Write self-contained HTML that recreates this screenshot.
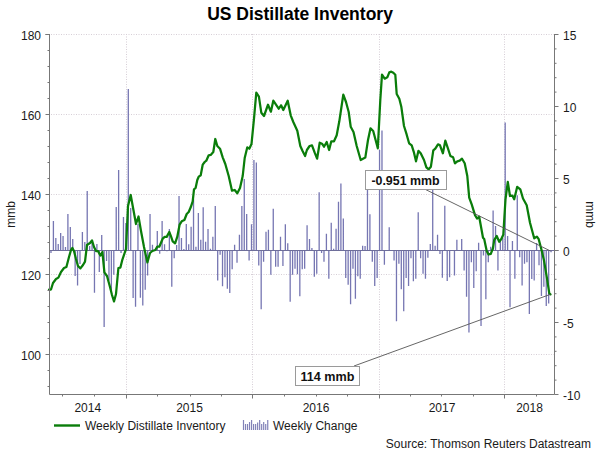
<!DOCTYPE html>
<html><head><meta charset="utf-8"><style>
html,body{margin:0;padding:0;background:#fff;}
svg{display:block;}
text{font-family:"Liberation Sans",sans-serif;font-size:12px;fill:#1a1a1a;}
</style></head><body>
<svg width="600" height="450" viewBox="0 0 600 450">
<rect width="600" height="450" fill="#fff"/>
<text x="300" y="20" text-anchor="middle" style="font-size:17.5px;font-weight:bold;fill:#000">US Distillate Inventory</text>
<path d="M51 34.5H554.5M51 114.5H554.5M51 194.5H554.5M51 274.5H554.5M51 354.5H554.5M126.5 34V394.5M252.5 34V394.5M379.5 34V394.5M504.5 34V394.5" stroke="#d6ced6" stroke-width="1" stroke-dasharray="1,1.5" fill="none"/>
<path d="M50.33 250.5h1.3V253.0h-1.3zM52.75 221.0h1.3V250.5h-1.3zM55.17 238.0h1.3V250.5h-1.3zM57.58 244.0h1.3V250.5h-1.3zM60.00 233.0h1.3V250.5h-1.3zM62.41 236.0h1.3V250.5h-1.3zM64.83 247.0h1.3V250.5h-1.3zM67.25 214.0h1.3V250.5h-1.3zM69.66 227.0h1.3V250.5h-1.3zM72.08 239.0h1.3V250.5h-1.3zM74.49 250.5h1.3V276.0h-1.3zM76.91 250.5h1.3V285.5h-1.3zM79.33 250.5h1.3V264.0h-1.3zM81.74 232.0h1.3V250.5h-1.3zM84.16 242.0h1.3V250.5h-1.3zM86.57 191.0h1.3V250.5h-1.3zM88.99 246.0h1.3V250.5h-1.3zM91.41 240.0h1.3V250.5h-1.3zM93.82 250.5h1.3V292.7h-1.3zM96.24 244.0h1.3V250.5h-1.3zM98.65 250.5h1.3V272.0h-1.3zM101.07 235.0h1.3V250.5h-1.3zM103.49 250.5h1.3V327.0h-1.3zM105.90 250.5h1.3V261.0h-1.3zM108.32 250.5h1.3V280.5h-1.3zM110.73 250.5h1.3V291.0h-1.3zM113.15 250.5h1.3V274.7h-1.3zM115.57 207.0h1.3V250.5h-1.3zM117.98 170.0h1.3V250.5h-1.3zM120.40 250.5h1.3V253.0h-1.3zM122.81 217.0h1.3V250.5h-1.3zM125.23 223.0h1.3V250.5h-1.3zM127.65 89.0h1.3V250.5h-1.3zM130.06 208.0h1.3V250.5h-1.3zM132.48 250.5h1.3V298.0h-1.3zM134.89 250.5h1.3V306.7h-1.3zM137.31 224.0h1.3V250.5h-1.3zM139.73 250.5h1.3V297.7h-1.3zM142.14 250.5h1.3V305.5h-1.3zM144.56 250.5h1.3V289.7h-1.3zM146.97 250.5h1.3V275.5h-1.3zM149.39 214.0h1.3V250.5h-1.3zM151.81 244.7h1.3V250.5h-1.3zM156.64 231.0h1.3V250.5h-1.3zM159.05 250.5h1.3V253.8h-1.3zM161.47 221.0h1.3V250.5h-1.3zM163.89 244.3h1.3V250.5h-1.3zM166.30 250.5h1.3V251.3h-1.3zM168.72 229.0h1.3V250.5h-1.3zM171.13 250.5h1.3V286.7h-1.3zM173.55 250.5h1.3V258.3h-1.3zM175.97 245.0h1.3V250.5h-1.3zM178.38 196.0h1.3V250.5h-1.3zM180.80 238.0h1.3V250.5h-1.3zM183.21 249.0h1.3V250.5h-1.3zM185.63 224.0h1.3V250.5h-1.3zM188.05 244.3h1.3V250.5h-1.3zM190.46 226.8h1.3V250.5h-1.3zM192.88 199.3h1.3V250.5h-1.3zM195.29 246.8h1.3V250.5h-1.3zM197.71 213.0h1.3V250.5h-1.3zM200.13 239.8h1.3V250.5h-1.3zM202.54 207.2h1.3V250.5h-1.3zM204.96 241.8h1.3V250.5h-1.3zM207.37 229.0h1.3V250.5h-1.3zM209.79 248.8h1.3V250.5h-1.3zM212.21 236.8h1.3V250.5h-1.3zM214.62 206.0h1.3V250.5h-1.3zM217.04 250.5h1.3V280.5h-1.3zM219.45 250.5h1.3V254.7h-1.3zM221.87 250.5h1.3V286.3h-1.3zM224.29 250.5h1.3V277.2h-1.3zM226.70 250.5h1.3V288.8h-1.3zM229.12 250.5h1.3V293.0h-1.3zM231.53 250.5h1.3V269.3h-1.3zM233.95 244.7h1.3V250.5h-1.3zM236.37 250.5h1.3V262.7h-1.3zM238.78 234.7h1.3V250.5h-1.3zM241.20 206.0h1.3V250.5h-1.3zM243.61 179.0h1.3V250.5h-1.3zM246.03 214.0h1.3V250.5h-1.3zM248.45 250.5h1.3V260.5h-1.3zM250.86 224.3h1.3V250.5h-1.3zM253.28 160.0h1.3V250.5h-1.3zM255.69 162.5h1.3V250.5h-1.3zM258.11 250.5h1.3V265.5h-1.3zM260.53 250.5h1.3V309.3h-1.3zM262.94 250.5h1.3V261.7h-1.3zM265.36 231.8h1.3V250.5h-1.3zM267.77 229.8h1.3V250.5h-1.3zM270.19 250.5h1.3V274.7h-1.3zM272.61 208.8h1.3V250.5h-1.3zM275.02 250.5h1.3V266.7h-1.3zM277.44 250.5h1.3V266.7h-1.3zM279.85 236.8h1.3V250.5h-1.3zM282.27 250.5h1.3V266.0h-1.3zM284.69 224.3h1.3V250.5h-1.3zM287.10 243.2h1.3V250.5h-1.3zM289.52 250.5h1.3V301.7h-1.3zM291.93 250.5h1.3V274.7h-1.3zM294.35 250.5h1.3V268.8h-1.3zM296.77 250.5h1.3V274.3h-1.3zM299.18 250.5h1.3V296.3h-1.3zM301.60 250.5h1.3V269.3h-1.3zM304.01 250.5h1.3V268.8h-1.3zM306.43 225.2h1.3V250.5h-1.3zM308.85 239.0h1.3V250.5h-1.3zM311.26 248.0h1.3V250.5h-1.3zM313.68 250.5h1.3V276.7h-1.3zM316.09 250.5h1.3V273.8h-1.3zM318.51 192.2h1.3V250.5h-1.3zM320.93 250.5h1.3V253.0h-1.3zM323.34 250.5h1.3V261.7h-1.3zM325.76 233.8h1.3V250.5h-1.3zM328.17 250.5h1.3V278.8h-1.3zM330.59 222.7h1.3V250.5h-1.3zM333.01 248.8h1.3V250.5h-1.3zM335.42 228.8h1.3V250.5h-1.3zM337.84 201.8h1.3V250.5h-1.3zM340.25 183.5h1.3V250.5h-1.3zM342.67 218.5h1.3V250.5h-1.3zM345.09 250.5h1.3V278.0h-1.3zM347.50 250.5h1.3V284.7h-1.3zM349.92 250.5h1.3V304.3h-1.3zM352.33 250.5h1.3V268.8h-1.3zM354.75 250.5h1.3V298.8h-1.3zM357.17 250.5h1.3V276.3h-1.3zM359.58 250.5h1.3V278.8h-1.3zM362.00 245.7h1.3V250.5h-1.3zM364.41 246.0h1.3V250.5h-1.3zM366.83 178.0h1.3V250.5h-1.3zM369.25 214.3h1.3V250.5h-1.3zM371.66 250.5h1.3V261.7h-1.3zM374.08 250.5h1.3V286.0h-1.3zM376.49 250.5h1.3V278.0h-1.3zM378.91 150.0h1.3V250.5h-1.3zM381.33 130.6h1.3V250.5h-1.3zM383.74 250.5h1.3V264.7h-1.3zM388.57 227.3h1.3V250.5h-1.3zM393.41 250.5h1.3V260.5h-1.3zM395.82 250.5h1.3V321.3h-1.3zM398.24 250.5h1.3V263.8h-1.3zM400.65 250.5h1.3V289.3h-1.3zM403.07 250.5h1.3V311.3h-1.3zM405.49 250.5h1.3V278.0h-1.3zM407.90 250.5h1.3V286.0h-1.3zM410.32 250.5h1.3V258.3h-1.3zM412.73 250.5h1.3V281.3h-1.3zM415.15 250.5h1.3V278.8h-1.3zM417.57 212.3h1.3V250.5h-1.3zM419.98 250.5h1.3V258.3h-1.3zM422.40 250.5h1.3V273.8h-1.3zM424.81 250.5h1.3V278.8h-1.3zM427.23 250.5h1.3V257.7h-1.3zM429.65 244.0h1.3V250.5h-1.3zM432.06 178.0h1.3V250.5h-1.3zM434.48 245.7h1.3V250.5h-1.3zM436.89 234.8h1.3V250.5h-1.3zM439.31 250.5h1.3V254.0h-1.3zM441.73 250.5h1.3V277.7h-1.3zM444.14 205.7h1.3V250.5h-1.3zM446.56 250.5h1.3V281.0h-1.3zM448.97 250.5h1.3V277.2h-1.3zM453.81 250.5h1.3V275.5h-1.3zM456.22 239.8h1.3V250.5h-1.3zM461.05 239.0h1.3V250.5h-1.3zM463.47 250.5h1.3V270.5h-1.3zM465.89 250.5h1.3V296.7h-1.3zM468.30 250.5h1.3V332.4h-1.3zM470.72 250.5h1.3V262.2h-1.3zM473.13 250.5h1.3V288.0h-1.3zM475.55 250.5h1.3V271.3h-1.3zM477.97 242.7h1.3V250.5h-1.3zM480.38 250.5h1.3V326.0h-1.3zM482.80 250.5h1.3V255.5h-1.3zM485.21 250.5h1.3V299.3h-1.3zM487.63 250.5h1.3V262.2h-1.3zM490.05 246.8h1.3V250.5h-1.3zM492.46 210.5h1.3V250.5h-1.3zM494.88 226.0h1.3V250.5h-1.3zM497.29 250.5h1.3V270.5h-1.3zM499.71 240.0h1.3V250.5h-1.3zM502.13 237.7h1.3V250.5h-1.3zM504.54 122.5h1.3V250.5h-1.3zM506.96 236.0h1.3V250.5h-1.3zM509.37 250.5h1.3V307.2h-1.3zM511.79 241.0h1.3V250.5h-1.3zM514.21 250.5h1.3V278.8h-1.3zM516.62 195.2h1.3V250.5h-1.3zM519.04 250.5h1.3V257.3h-1.3zM521.45 250.5h1.3V285.5h-1.3zM523.87 250.5h1.3V263.8h-1.3zM526.29 250.5h1.3V262.2h-1.3zM528.70 250.5h1.3V314.0h-1.3zM531.12 250.5h1.3V279.0h-1.3zM533.53 250.5h1.3V280.5h-1.3zM535.95 243.0h1.3V250.5h-1.3zM538.37 250.5h1.3V265.3h-1.3zM540.78 250.5h1.3V296.0h-1.3zM543.20 250.5h1.3V286.8h-1.3zM545.61 250.5h1.3V306.0h-1.3zM548.03 250.5h1.3V303.5h-1.3zM550.45 250.5h1.3V252.3h-1.3z" fill="#7676b2"/>
<path d="M49.5 250.5H558.5" stroke="#6e6e9a" stroke-width="1"/>
<path d="M49.0 289.5 L51.0 289.5 L53.0 283.0 L56.0 279.0 L58.4 277.6 L61.0 272.0 L64.0 268.0 L66.4 267.0 L69.0 257.0 L71.0 250.0 L72.4 248.0 L74.0 251.0 L76.0 259.0 L78.0 266.0 L80.4 268.4 L83.0 265.0 L85.0 261.6 L87.0 245.0 L90.0 243.0 L92.0 240.4 L94.0 247.0 L96.0 251.0 L98.0 251.0 L100.4 255.6 L102.4 252.0 L104.4 272.4 L107.0 276.0 L110.0 287.0 L112.0 295.0 L114.0 301.5 L116.0 294.0 L118.4 268.0 L120.4 267.6 L122.4 259.6 L126.0 249.0 L128.0 206.0 L130.7 195.0 L136.0 224.0 L138.5 216.5 L141.0 231.0 L144.0 247.0 L147.4 262.4 L150.0 253.0 L152.4 251.0 L155.3 250.0 L157.3 246.7 L159.3 246.7 L161.3 242.0 L162.7 238.7 L164.7 236.9 L166.7 236.9 L169.3 232.0 L171.1 236.7 L172.7 241.3 L175.1 243.3 L177.3 236.7 L179.6 224.7 L181.7 221.3 L184.4 220.0 L186.7 214.0 L188.7 212.0 L190.7 207.3 L192.7 201.3 L194.0 189.3 L195.6 188.0 L197.3 180.0 L198.7 176.7 L200.7 175.3 L202.7 164.7 L204.7 162.0 L206.3 160.7 L208.7 155.3 L210.7 154.9 L213.3 152.0 L215.3 139.0 L217.3 146.0 L220.0 148.7 L222.7 157.3 L225.3 164.0 L228.7 176.0 L232.0 190.7 L234.7 190.0 L237.3 193.3 L240.0 188.0 L242.7 176.0 L244.7 158.0 L247.3 147.3 L249.3 148.7 L251.5 144.0 L254.0 118.7 L256.3 92.7 L258.9 96.7 L261.3 112.7 L264.0 116.0 L268.0 104.7 L270.9 111.7 L273.3 100.7 L278.7 108.7 L281.1 105.3 L283.3 110.0 L287.7 100.7 L290.7 115.3 L293.3 122.0 L297.3 130.7 L300.3 146.0 L302.7 151.3 L305.1 156.0 L306.9 150.0 L309.6 146.0 L312.0 145.3 L314.7 152.7 L317.1 158.7 L319.7 142.7 L322.0 143.7 L324.0 146.7 L326.7 142.0 L329.1 150.0 L331.3 141.3 L334.0 141.3 L336.7 135.3 L339.3 121.3 L341.3 108.0 L343.3 94.7 L346.0 102.0 L348.7 112.0 L350.7 126.7 L353.5 132.0 L356.7 146.0 L360.7 160.0 L365.3 157.6 L368.0 140.0 L370.5 128.3 L373.2 131.0 L377.8 148.3 L380.3 100.0 L382.0 74.7 L384.7 78.7 L387.3 77.3 L389.3 72.3 L391.3 71.7 L393.3 72.7 L395.3 74.7 L396.7 94.0 L399.3 98.7 L401.3 106.7 L404.0 126.0 L406.7 134.7 L409.1 143.3 L411.7 145.3 L414.0 152.7 L416.0 161.3 L418.4 150.9 L420.7 153.3 L424.0 160.0 L426.4 167.3 L428.7 169.3 L430.9 166.7 L433.3 150.4 L435.3 148.7 L438.0 144.3 L440.0 145.3 L442.9 153.3 L445.3 140.7 L448.0 148.7 L450.4 156.0 L453.1 157.3 L454.9 163.3 L457.3 161.3 L459.7 160.7 L462.0 158.7 L464.7 163.3 L467.3 176.0 L469.2 197.7 L471.7 204.3 L475.0 215.2 L477.0 218.5 L479.2 216.8 L483.0 237.7 L484.2 239.0 L486.7 251.0 L488.5 254.5 L490.8 253.8 L493.0 248.0 L494.2 240.2 L496.7 236.0 L499.2 241.8 L501.3 239.0 L503.3 234.7 L505.5 199.3 L507.8 181.8 L510.0 196.0 L512.5 195.7 L514.2 199.3 L517.2 186.8 L520.3 189.3 L523.0 198.5 L526.7 205.2 L530.0 222.7 L534.2 238.3 L536.9 236.6 L538.7 239.2 L541.3 249.0 L544.0 260.6 L546.7 276.6 L549.3 293.4 L550.5 294.3" stroke="#0a7d0a" stroke-width="2.25" fill="none" stroke-linejoin="round" stroke-linecap="round"/>
<path d="M49.5 34V394.5H554.5V34" stroke="#777" stroke-width="1" fill="none"/>
<path d="M45.5 34.5H49.5" stroke="#777" stroke-width="1"/>
<path d="M45.5 34.5H49.5M47.5 50.5H49.5M47.5 66.5H49.5M47.5 82.5H49.5M47.5 98.5H49.5M45.5 114.5H49.5M47.5 130.5H49.5M47.5 146.5H49.5M47.5 162.5H49.5M47.5 178.5H49.5M45.5 194.5H49.5M47.5 210.5H49.5M47.5 226.5H49.5M47.5 242.5H49.5M47.5 258.5H49.5M45.5 274.5H49.5M47.5 290.5H49.5M47.5 306.5H49.5M47.5 322.5H49.5M47.5 338.5H49.5M45.5 354.5H49.5M47.5 370.5H49.5M47.5 386.5H49.5M554.5 34.5H558.5M554.5 48.9H556.5M554.5 63.3H556.5M554.5 77.7H556.5M554.5 92.1H556.5M554.5 106.5H558.5M554.5 120.9H556.5M554.5 135.3H556.5M554.5 149.7H556.5M554.5 164.1H556.5M554.5 178.5H558.5M554.5 192.9H556.5M554.5 207.3H556.5M554.5 221.70000000000002H556.5M554.5 236.1H556.5M554.5 250.5H558.5M554.5 264.9H556.5M554.5 279.3H556.5M554.5 293.7H556.5M554.5 308.1H556.5M554.5 322.5H558.5M554.5 336.90000000000003H556.5M554.5 351.3H556.5M554.5 365.7H556.5M554.5 380.1H556.5M554.5 394.5H558.5M126.5 394.5V398.5M252.5 394.5V398.5M379.5 394.5V398.5M504.5 394.5V398.5M62.5 394.5V396.5M94.5 394.5V396.5M157.5 394.5V396.5M190.5 394.5V396.5M221.5 394.5V396.5M284.5 394.5V396.5M316.5 394.5V396.5M347.5 394.5V396.5M410.5 394.5V396.5M441.5 394.5V396.5M473.5 394.5V396.5M536.5 394.5V396.5" stroke="#777" stroke-width="1" fill="none"/>
<text x="41" y="39.5" text-anchor="end">180</text><text x="41" y="119.5" text-anchor="end">160</text><text x="41" y="199.5" text-anchor="end">140</text><text x="41" y="279.5" text-anchor="end">120</text><text x="41" y="359.5" text-anchor="end">100</text>
<text x="563" y="39.5">15</text><text x="563" y="111.5">10</text><text x="563" y="183.5">5</text><text x="563" y="255.5">0</text><text x="563" y="327.5">-5</text><text x="563" y="399.5">-10</text>
<text x="87.8" y="412" text-anchor="middle">2014</text><text x="189.5" y="412" text-anchor="middle">2015</text><text x="316.0" y="412" text-anchor="middle">2016</text><text x="442.0" y="412" text-anchor="middle">2017</text><text x="529.5" y="412" text-anchor="middle">2018</text>
<text transform="translate(15,214.5) rotate(-90)" text-anchor="middle">mmb</text>
<text transform="translate(586,214.5) rotate(90)" text-anchor="middle">mmb</text>
<path d="M424.5 189L550.5 251" stroke="#555" stroke-width="0.9"/>
<path d="M354 366L550.5 294.3" stroke="#555" stroke-width="0.9"/>
<rect x="365.5" y="170.5" width="81" height="19" fill="#fff" stroke="#9a9a9a" stroke-width="1"/>
<text x="405.5" y="185" text-anchor="middle" style="font-weight:bold;fill:#111;font-size:12.4px">-0.951 mmb</text>
<rect x="295.5" y="366.5" width="64" height="19" fill="#fff" stroke="#9a9a9a" stroke-width="1"/>
<text x="327.5" y="380.8" text-anchor="middle" style="font-weight:bold;fill:#111;font-size:12.6px">114 mmb</text>
<path d="M54 425.5H80" stroke="#0a7d0a" stroke-width="2.4"/>
<text x="85" y="430">Weekly Distillate Inventory</text>
<path d="M242.90 420h1.2V430h-1.2zM244.92 424h1.2V430h-1.2zM246.94 424h1.2V430h-1.2zM248.96 422h1.2V430h-1.2zM250.98 420h1.2V430h-1.2zM253.00 424h1.2V430h-1.2zM255.02 424h1.2V430h-1.2zM257.04 422.5h1.2V430h-1.2zM259.06 420h1.2V430h-1.2zM261.08 424h1.2V430h-1.2zM263.10 422h1.2V430h-1.2zM265.12 424h1.2V430h-1.2zM267.14 420h1.2V430h-1.2z" fill="#8282b8"/>
<text x="273" y="430">Weekly Change</text>
<text x="591" y="447.5" text-anchor="end">Source: Thomson Reuters Datastream</text>
</svg>
</body></html>
